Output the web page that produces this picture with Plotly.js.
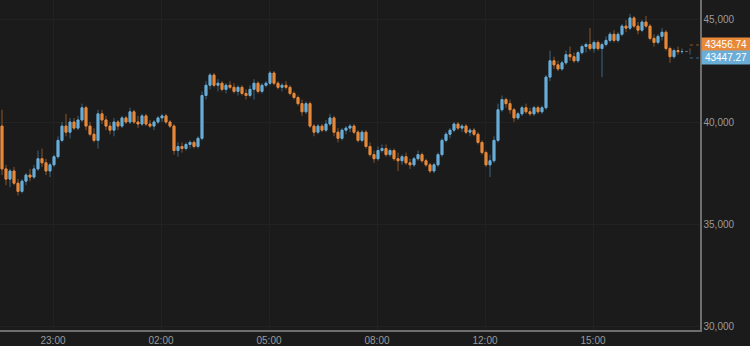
<!DOCTYPE html>
<html>
<head>
<meta charset="utf-8">
<script src="https://cdn.plot.ly/plotly-3.0.1.min.js"></script>
<style>
html,body{margin:0;padding:0;background:#1b1b1b;}
#chart{width:750px;height:346px;}
</style>
</head>
<body>
<div id="chart"></div>
<script>
// ---- data (one candle per slot) ----
const opens = [39800,37700,37200,37600,37000,36600,37100,37400,37300,37700,38200,38000,37600,37900,38300,39100,39800,39500,40000,39700,
40100,40700,39800,39400,39100,40400,40100,39800,39600,40000,39800,40200,40000,40500,40000,39900,40300,39900,39800,40000,
40200,40300,40000,39800,38600,38800,38700,38900,39000,38800,39200,41300,41800,42300,41800,41900,41600,41800,41700,41500,
41700,41400,41300,41600,41900,41500,41800,41900,42400,41900,41700,41800,41700,41400,41200,40900,40500,40900,39800,39500,
39800,39600,39900,40200,39500,39200,39600,39700,39800,39500,39100,39500,38800,38400,38200,38600,38700,38400,38600,38200,
38100,38300,38000,37900,38200,38400,38100,37900,37600,37900,38400,39100,39400,39600,39900,39700,39800,39500,39600,39400,
39000,38500,37900,38100,39100,40600,41100,40900,40600,40200,40400,40700,40500,40400,40700,40500,40700,42200,43000,42800,
42600,42900,43300,43200,43000,43400,43700,43800,43600,43900,43600,43800,44000,44300,44000,44300,44700,44600,45100,44700,
44500,44900,44700,44100,43900,44200,44400,43600,43200,43500,43450];
const highs = [40600,37900,37700,37800,37200,37200,37500,37700,37900,38600,38700,38200,38000,38400,39300,40000,40400,40200,40200,40300,
40900,40800,40000,39700,40600,40600,40300,40000,40200,40100,40300,40300,40700,40600,40300,40400,40400,40100,40100,40300,
40400,40400,40100,39900,39000,39000,39000,39100,39100,39300,41500,42000,42400,42400,42100,42000,41900,42000,41900,41800,
41800,41600,41800,42100,42000,41900,42000,42500,42500,42000,41900,42000,41800,41500,41300,41100,41000,41000,39900,39900,
39900,40100,40400,40300,39700,39700,39800,39900,39900,39600,39600,39600,39000,38600,38800,38900,38900,38700,38700,38500,
38400,38500,38200,38300,38600,38500,38200,38000,38000,38500,39200,39500,39700,40000,40000,39900,39900,39700,39700,39500,
39100,38600,38400,39300,40900,41300,41200,41100,40700,40500,40800,40900,40700,40800,40800,40800,42300,43500,43200,43000,
43000,43500,43700,43400,43500,43800,43900,44600,44000,44000,43900,44200,44400,44500,44400,44800,45000,45300,45200,44900,
45000,45200,44800,44300,44300,44600,44500,43700,43600,43700,43600];
const lows = [37400,36900,36800,36900,36400,36500,36900,37100,37200,37600,37800,37400,37300,37800,38200,39000,39300,39200,39600,39600,
40000,39600,39300,39000,38700,39900,39600,39400,39300,39600,39700,39900,39900,39900,39700,39800,39800,39700,39600,39900,
40000,39900,39700,38400,38300,38500,38600,38700,38700,38700,39100,41100,41600,41700,41500,41500,41400,41600,41400,41300,
41300,41100,41200,41100,41400,41400,41700,41800,41800,41600,41500,41600,41300,41100,40800,40300,40400,39700,39300,39400,
39500,39500,39800,39300,39000,39100,39400,39500,39400,39000,39000,38700,38300,38000,38100,38500,38300,38300,38100,37600,
37900,37900,37700,37800,38100,38000,37800,37500,37500,37800,38300,39000,39200,39500,39600,39500,39400,39300,39300,38900,
38400,37800,37300,38000,39000,40500,40700,40400,40000,40100,40300,40400,40300,40300,40400,40400,40600,42000,42600,42500,
42500,42800,43000,42900,42900,43300,43400,43500,43400,43500,42200,43700,43900,43900,43900,44200,44400,44500,44600,44300,
44400,44600,44000,43700,43800,44000,43500,42900,43100,43300,43350];
const closes = [37700,37200,37600,37000,36600,37100,37400,37300,37700,38200,38000,37600,37900,38300,39100,39800,39500,40000,39700,40100,
40700,39800,39400,39100,40400,40100,39800,39600,40000,39800,40200,40000,40500,40000,39900,40300,39900,39800,40000,40200,
40300,40000,39800,38600,38800,38700,38900,39000,38800,39200,41300,41800,42300,41800,41900,41600,41800,41700,41500,41700,
41400,41300,41600,41900,41500,41800,41900,42400,41900,41700,41800,41700,41400,41200,40900,40500,40900,39800,39500,39800,
39600,39900,40200,39500,39200,39600,39700,39800,39500,39100,39500,38800,38400,38200,38600,38700,38400,38600,38200,38100,
38300,38000,37900,38200,38400,38100,37900,37600,37900,38400,39100,39400,39600,39900,39700,39800,39500,39600,39400,39000,
38500,37900,38100,39100,40600,41100,40900,40600,40200,40400,40700,40500,40400,40700,40500,40700,42200,43000,42800,42600,
42900,43300,43200,43000,43400,43700,43800,43600,43900,43600,43800,44000,44300,44000,44300,44700,44600,45100,44700,44500,
44900,44700,44100,43900,44200,44400,43600,43200,43500,43450,43456.74];
const tickLabels = ['23:00','02:00','05:00','08:00','12:00','15:00'];
const tickSlots  = [12.75, 39.75, 66.75, 93.75, 120.75, 147.75];
const priceTicks = [30000, 35000, 40000, 45000];
const lastPrices = [43456.74, 43447.27]; // orange, blue tags

// ---- build ----
const n = closes.length;
const xs = closes.map((_, i) => i);
const bodyHi = opens.map((o, i) => Math.max(o, closes[i]));
const bodyLo = opens.map((o, i) => Math.min(o, closes[i]));

const BLUE = '#6aaed8', ORANGE = '#e8893a';
const BLUE_DIM = '#3b6683', ORANGE_DIM = '#8a5628';

const wicks = {
  type: 'candlestick', x: xs, open: opens, high: highs, low: lows, close: closes,
  increasing: {line: {color: BLUE_DIM, width: 1}, fillcolor: BLUE_DIM},
  decreasing: {line: {color: ORANGE_DIM, width: 1}, fillcolor: ORANGE_DIM},
  hoverinfo: 'skip', showlegend: false
};
const bodies = {
  type: 'candlestick', x: xs, open: opens, high: bodyHi, low: bodyLo, close: closes,
  increasing: {line: {color: BLUE, width: 1}, fillcolor: BLUE},
  decreasing: {line: {color: ORANGE, width: 1}, fillcolor: ORANGE},
  hoverinfo: 'skip', showlegend: false
};

const last = n - 1;
const lastY = closes[last];
const dash = {dash: 'dot', width: 1};
const shapes = [
  {type: 'line', xref: 'x', yref: 'y', xsizemode: 'pixel', xanchor: last, ysizemode: 'pixel', yanchor: lastY,
   x0: 3, x1: 8, y0: 0, y1: 0, line: Object.assign({color: '#6a6a6a'}, dash)},
  {type: 'line', xref: 'x', yref: 'y', xsizemode: 'pixel', xanchor: last, ysizemode: 'pixel', yanchor: lastY,
   x0: 8, x1: 8, y0: 0, y1: 6.5, line: Object.assign({color: ORANGE_DIM}, dash)},
  {type: 'line', xref: 'x', yref: 'y', xsizemode: 'pixel', xanchor: last, ysizemode: 'pixel', yanchor: lastY,
   x0: 8, x1: 8, y0: 0, y1: -6.5, line: Object.assign({color: BLUE_DIM}, dash)},
  {type: 'line', xref: 'x', yref: 'y', xsizemode: 'pixel', xanchor: last, ysizemode: 'pixel', yanchor: lastY,
   x0: 8, x1: 17, y0: 6.5, y1: 6.5, line: Object.assign({color: ORANGE_DIM}, dash)},
  {type: 'line', xref: 'x', yref: 'y', xsizemode: 'pixel', xanchor: last, ysizemode: 'pixel', yanchor: lastY,
   x0: 8, x1: 17, y0: -6.5, y1: -6.5, line: Object.assign({color: BLUE_DIM}, dash)}
];

const tagFont = {family: 'Liberation Sans, Arial, sans-serif', size: 10, color: '#ffffff'};
const annotations = [
  {xref: 'paper', yref: 'y', x: 1, y: lastY, xanchor: 'left', yanchor: 'middle', xshift: 1, yshift: 6.5,
   text: lastPrices[0].toFixed(2), showarrow: false, bgcolor: ORANGE, font: tagFont, borderpad: 1, width: 46},
  {xref: 'paper', yref: 'y', x: 1, y: lastY, xanchor: 'left', yanchor: 'middle', xshift: 1, yshift: -6.5,
   text: lastPrices[1].toFixed(2), showarrow: false, bgcolor: BLUE, font: tagFont, borderpad: 1, width: 46}
];

const tickFont = {family: 'Liberation Sans, Arial, sans-serif', size: 10, color: '#9a9a9a'};
const layout = {
  width: 750, height: 346,
  margin: {l: 0, r: 50, t: 0, b: 16, pad: 0},
  paper_bgcolor: '#1b1b1b', plot_bgcolor: '#1b1b1b',
  showlegend: false,
  xaxis: {
    range: [-0.5, 174.5], rangeslider: {visible: false},
    tickmode: 'array', tickvals: tickSlots, ticktext: tickLabels,
    showgrid: true, gridcolor: '#222222', gridwidth: 1,
    showline: true, linecolor: '#6e6e6e', linewidth: 1.5,
    ticks: '', tickfont: tickFont, zeroline: false, fixedrange: true
  },
  yaxis: {
    side: 'right', range: [29804, 45980],
    tickmode: 'array', tickvals: priceTicks, ticktext: priceTicks.map(v => v.toLocaleString('en-US')),
    showgrid: true, gridcolor: '#222222', gridwidth: 1,
    showline: true, linecolor: '#6e6e6e', linewidth: 1.5,
    ticks: '', tickfont: tickFont, zeroline: false, fixedrange: true
  },
  shapes: shapes,
  annotations: annotations
};

Plotly.newPlot('chart', [wicks, bodies], layout, {displayModeBar: false, staticPlot: true});
</script>
</body>
</html>
